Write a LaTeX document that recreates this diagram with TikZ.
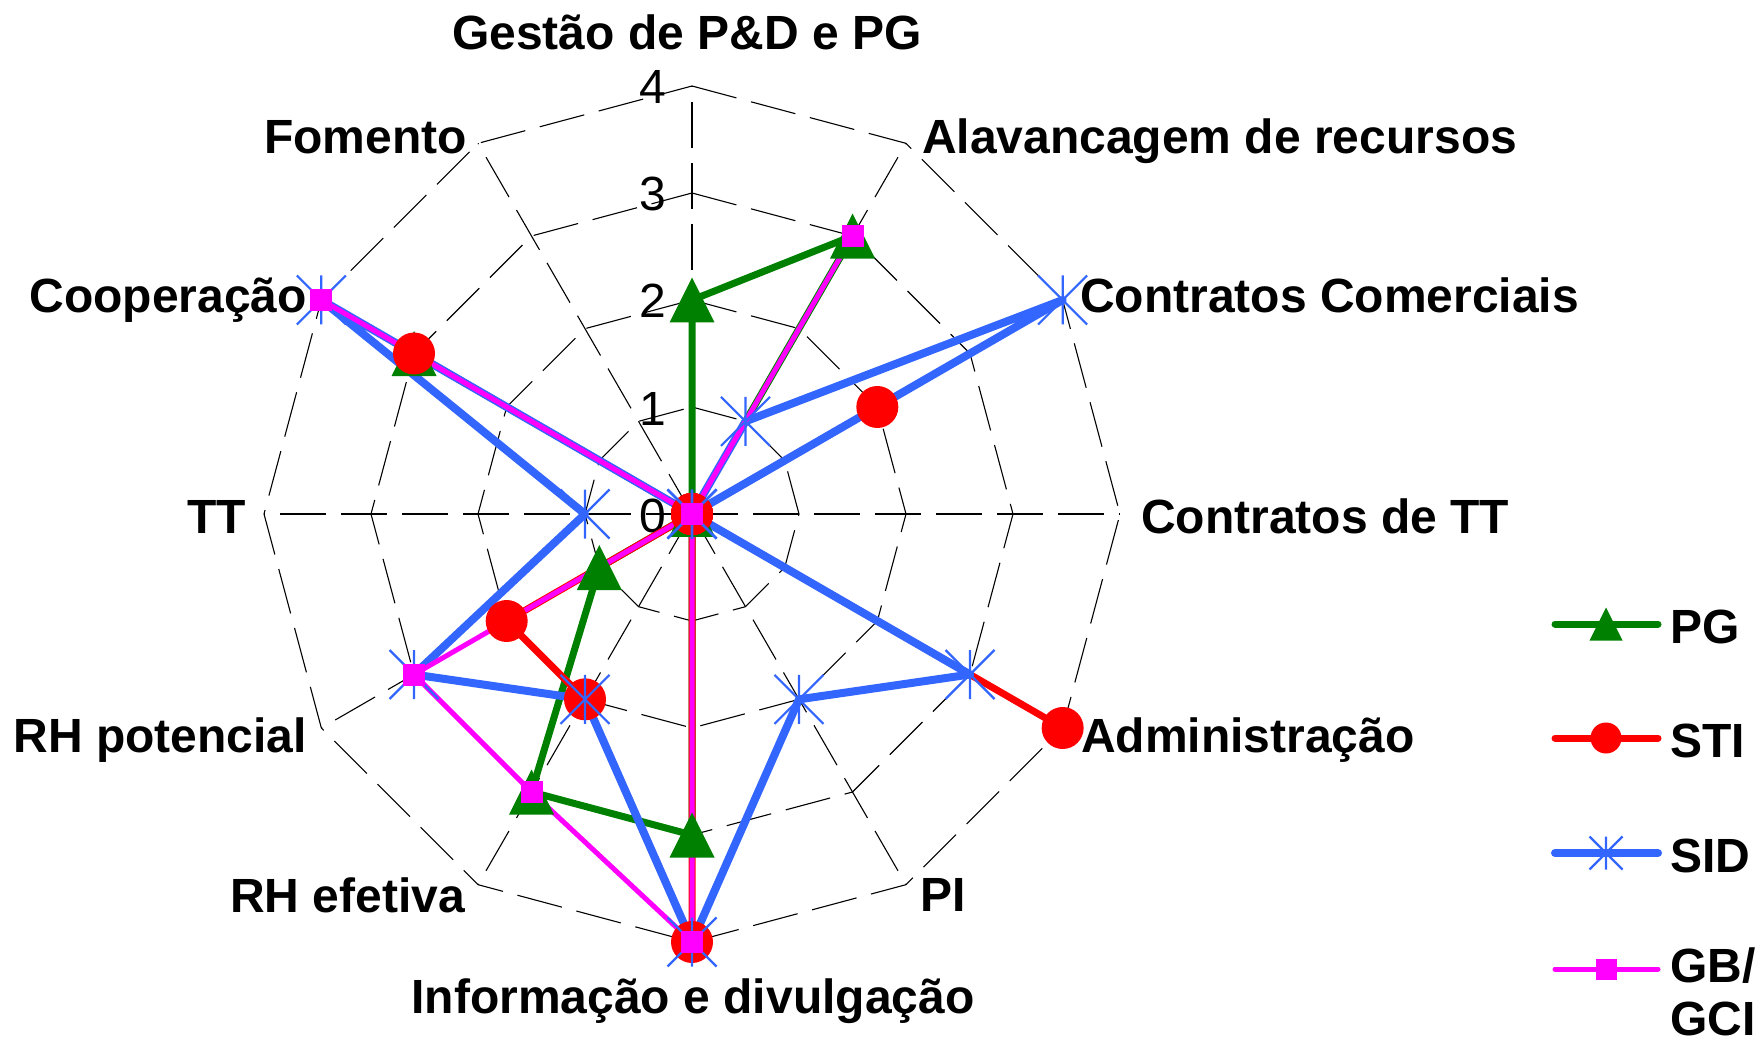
\documentclass[tikz,border=0pt]{standalone}
\usepackage{fontspec}
\setmainfont{Liberation Sans}
\usetikzlibrary{calc}
\definecolor{cpg}{RGB}{0,128,0}
\definecolor{csti}{RGB}{255,0,0}
\definecolor{csid}{RGB}{51,102,255}
\definecolor{cgb}{RGB}{255,0,255}
\tikzset{
  gridline/.style={black,line width=1.1pt,dash pattern=on 46pt off 15pt},
  serie/.style={line width=#1, line join=round, line cap=round},
  lbl/.style={inner sep=0pt, font=\fontsize{48}{55}\selectfont\bfseries},
  numlbl/.style={inner sep=0pt, font=\fontsize{48}{55}\selectfont},
}
\newcommand\mkTri[3]{\fill[#3, shift={(#1)}] (0,#2) -- (-#2,-#2) -- (#2,-#2) -- cycle;}
\newcommand\mkDot[3]{\fill[#3] (#1) circle[radius=#2];}
\newcommand\mkAst[3]{\draw[#3, line width=2.2pt, shift={(#1)}] (0,-#2) -- (0,#2) (-#2,-#2) -- (#2,#2) (-#2,#2) -- (#2,-#2);}
\newcommand\mkSq[3]{\fill[#3, shift={(#1)}] (-#2,-#2) rectangle (#2,#2);}
\begin{document}
\begin{tikzpicture}[x=1pt,y=1pt]
\useasboundingbox (0,0) rectangle (1758,-1040);
\coordinate (C) at (692,-514);
% grid
\foreach \k in {0,...,11} \coordinate (ax\k) at ($(C)+({90-30*\k}:428)$);
\foreach \r in {1,...,4} \draw[gridline] ($(C)+(90:{\r*107})$) \foreach \k in {1,...,11}{ -- ($(C)+({90-30*\k}:{\r*107})$)} -- cycle;
\foreach \k in {0,...,11} \draw[gridline] (C) -- (ax\k);
% scale numbers
\foreach \n in {0,...,4} \node[numlbl, anchor=base east] (num\n) at (666,{-514+107*\n-18}) {\n};
% data points
\foreach \v [count=\i from 0] in {2,3,0,0,0,0,3,3,1,0,3,0} \coordinate (pg\i) at ($(C)+({90-30*\i}:{\v*107})$);
\foreach \v [count=\i from 0] in {0,0,2,0,4,0,4,2,2,0,3,0} \coordinate (sti\i) at ($(C)+({90-30*\i}:{\v*107})$);
\foreach \v [count=\i from 0] in {0,1,4,0,3,2,4,2,3,1,4,0} \coordinate (sid\i) at ($(C)+({90-30*\i}:{\v*107})$);
\foreach \v [count=\i from 0] in {0,3,0,0,0,0,4,3,3,0,4,0} \coordinate (gb\i) at ($(C)+({90-30*\i}:{\v*107})$);
% series lines
\draw[cpg, serie=7pt] (pg0) \foreach \i in {1,...,11}{ -- (pg\i)} -- cycle;
\draw[csti, serie=7pt] (sti0) \foreach \i in {1,...,11}{ -- (sti\i)} -- cycle;
\draw[csid, serie=8pt] (sid0) \foreach \i in {1,...,11}{ -- (sid\i)} -- cycle;
\draw[cgb, serie=5pt] (gb0) \foreach \i in {1,...,11}{ -- (gb\i)} -- cycle;
% markers
\foreach \i in {0,...,11} {\mkTri{pg\i}{22.5}{cpg}}
\foreach \i in {0,...,11} {\mkDot{sti\i}{21}{csti}}
\foreach \i in {0,...,11} {\mkAst{sid\i}{24.5}{csid}}
\foreach \i in {0,...,11} {\mkSq{gb\i}{11}{cgb}}
% axis labels
\node[lbl, anchor=base] (l0) at (687,-50) {Gestão de P\&D e PG};
\node[lbl, anchor=base west] (l1) at (922,-154) {Alavancagem de recursos};
\node[lbl, anchor=base west] (l2) at (1080,-313) {Contratos Comerciais};
\node[lbl, anchor=base west] (l3) at (1141,-533) {Contratos de TT};
\node[lbl, anchor=base west] (l4) at (1081,-752) {Administração};
\node[lbl, anchor=base west] (l5) at (920,-911) {PI};
\node[lbl, anchor=base] (l6) at (693,-1013) {Informação e divulgação};
\node[lbl, anchor=base east] (l7) at (465,-912) {RH efetiva};
\node[lbl, anchor=base east] (l8) at (307,-752) {RH potencial};
\node[lbl, anchor=base east] (l9) at (246,-533) {TT};
\node[lbl, anchor=base east] (l10) at (307,-313) {Cooperação};
\node[lbl, anchor=base east] (l11) at (467,-154) {Fomento};
% legend
\foreach \j/\y in {1/624,2/738,3/853,4/969} {
  \coordinate (lg\j a) at (1555,-\y);
  \coordinate (lg\j b) at (1658,-\y);
  \coordinate (lg\j m) at (1606,-\y);
}
\draw[cpg, serie=7pt] (lg1a) -- (lg1b);
\draw[csti, serie=7pt] (lg2a) -- (lg2b);
\draw[csid, serie=8pt] (lg3a) -- (lg3b);
\draw[cgb, serie=5pt] (lg4a) -- (lg4b);
\mkTri{lg1m}{16.5}{cpg}
\mkDot{lg2m}{15.5}{csti}
\mkAst{lg3m}{16.5}{csid}
\mkSq{lg4m}{10.5}{cgb}
\node[lbl, anchor=base west] (t1) at (1670,-643) {PG};
\node[lbl, anchor=base west] (t2) at (1670,-757) {STI};
\node[lbl, anchor=base west] (t3) at (1670,-872) {SID};
\node[lbl, anchor=base west] (t4) at (1670,-982) {GB/};
\node[lbl, anchor=base west] (t5) at (1670,-1035) {GCI};
\end{tikzpicture}
\end{document}
